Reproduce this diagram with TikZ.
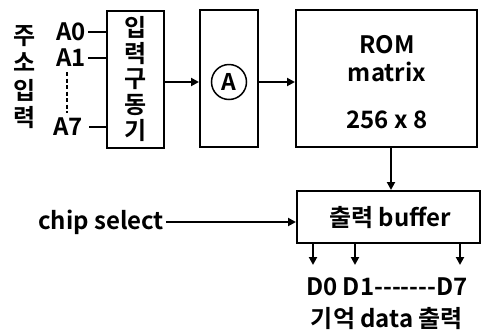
\documentclass[tikz,border=0pt]{standalone}
\usepackage{fontspec}
\setmainfont{Noto Sans CJK KR}[BoldFont={Noto Sans CJK KR Bold}]
\usetikzlibrary{arrows.meta}
\newcommand{\hy}{\mbox{-}}
\begin{document}
\begin{tikzpicture}[x=1pt,y=-1pt,
  every node/.style={font=\bfseries\fontsize{24}{24}\selectfont, inner sep=0pt},
  blk/.style={draw, line width=2pt},
  wire/.style={line width=2pt},
  arr/.style={wire, -{Triangle[length=8pt,width=8pt]}}]
\useasboundingbox (0,0) rectangle (482,333);
% blocks
\node[blk, minimum width=57pt, minimum height=137pt] (drv) at (135.5,79.5) {};
\node[align=center, font=\bfseries\fontsize{24}{25.6}\selectfont] (drvt) at (135.5,79) {입\\력\\구\\동\\기};
\node[blk, minimum width=58pt, minimum height=137pt] (dec) at (229,78.5) {};
\node[draw, circle, line width=1.5pt, minimum size=35pt, font=\bfseries\fontsize{23}{23}\selectfont] (circ) at (229,82) {A};
\node[blk, minimum width=181pt, minimum height=137pt] (rom) at (386.5,78.5) {};
\node (romt1) at (387,45) {ROM};
\node (romt2) at (387,72) {matrix};
\node (romt3) at (387,120) {256 x 8};
\node[blk, minimum width=183pt, minimum height=52pt] (buf) at (388.5,217) {};
\node (buft) at (390,218) {출력 buffer};
% address inputs
\node[align=center, font=\bfseries\fontsize{24}{27.5}\selectfont] (addr) at (25,77) {주\\소\\입\\력};
\node[anchor=east] (a0) at (86,32) {A0};
\node[anchor=east] (a1) at (86,58) {A1};
\node[anchor=east] (a7) at (83,127) {A7};
\draw[wire] ([xshift=2pt]a0.east) -- (a0.east -| drv.west);
\draw[wire] ([xshift=2pt]a1.east) -- (a1.east -| drv.west);
\draw[wire] ([xshift=6pt]a7.east) -- (a7.east -| drv.west);
\coordinate (dtop) at (67,72);
\coordinate (dbot) at (67,113);
\draw[line width=1.5pt, dash pattern=on 4pt off 2.5pt] (dtop) -- (dbot);
% main path
\draw[arr] (drv.east |- circ) -- (dec.west |- circ);
\draw[arr] (dec.east |- circ) -- (rom.west |- circ);
\coordinate (romout) at (391,147);
\draw[arr] (romout) -- (romout |- buf.north);
% chip select
\node (cs) at (101,222) {chip select};
\draw[arr] ([xshift=2pt]cs.east) -- (cs.east -| buf.west);
% outputs
\coordinate (o0) at (313,265);
\coordinate (o1) at (355,265);
\coordinate (o7) at (460,265);
\draw[arr] (o0 |- buf.south) -- (o0);
\draw[arr] (o1 |- buf.south) -- (o1);
\draw[arr] (o7 |- buf.south) -- (o7);
\node (dout) at (387,287) {D0 D1\hy\hy\hy\hy\hy\hy\hy D7};
\node (mem) at (387,319) {기억 data 출력};
\end{tikzpicture}
\end{document}
